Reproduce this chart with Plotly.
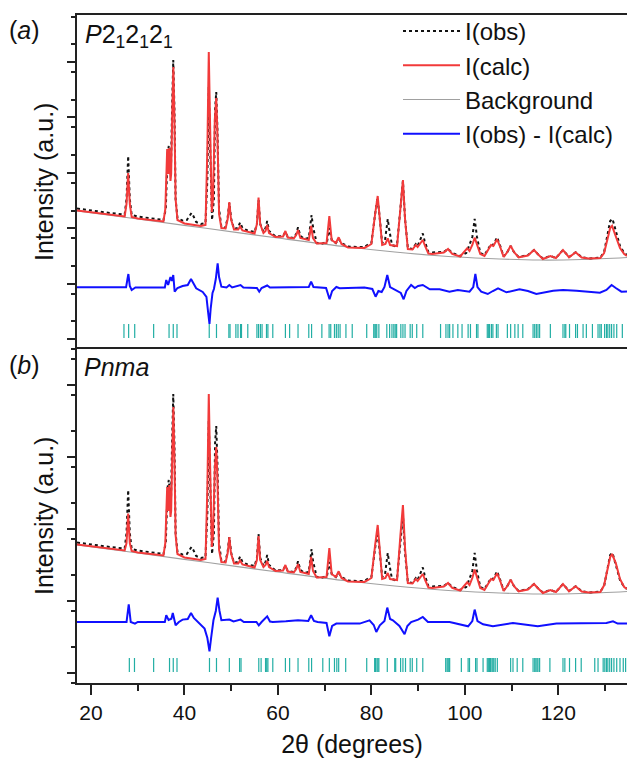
import plotly.graph_objects as go
from plotly.subplots import make_subplots

# ---------------- data (2theta in degrees, intensity in a.u.) ----------------
two_theta_obs = [17.0, 20.0, 24.0, 27.2, 27.6, 27.95, 28.3, 28.7, 30.0, 33.0, 35.5, 36.0, 36.4, 36.65, 36.9, 37.1,
                 37.35, 37.6, 37.85, 38.1, 38.5, 39.5, 40.5, 41.1, 41.5, 41.9, 42.5, 43.5, 44.5, 44.9, 45.2, 45.5,
                 45.9, 46.3, 46.55, 46.8, 47.05, 47.4, 47.9, 48.7, 49.2, 49.6, 50.0, 50.6, 51.4, 51.9, 52.4, 53.5,
                 55.0, 55.5, 55.85, 56.2, 56.9, 57.35, 57.7, 58.1, 59.5, 61.1, 61.6, 62.1, 63.4, 63.9, 64.3, 64.8,
                 65.7, 66.6, 67.0, 67.2, 67.5, 68.3, 69.5, 70.5, 71.0, 71.5, 72.4, 73.0, 73.6, 75.0, 77.0, 78.5,
                 79.3, 80.0, 80.8, 81.3, 81.7, 82.3, 82.9, 83.3, 83.5, 83.8, 84.4, 85.0, 85.5, 86.2, 86.75, 87.2,
                 87.8, 88.8, 89.5, 89.9, 90.6, 91.0, 91.4, 92.2, 93.0, 95.5, 96.4, 97.3, 99.0, 100.3, 100.9, 101.6,
                 102.1, 102.6, 103.3, 104.2, 105.0, 105.6, 106.1, 106.9, 107.5, 108.3, 109.1, 109.8, 110.5, 111.5,
                 113.5, 114.8, 115.6, 116.7, 118.3, 119.5, 121.0, 122.3, 123.7, 125.0, 126.5, 129.0, 129.8, 130.5,
                 131.1, 131.6, 132.3, 133.2, 134.1, 134.7]
i_obs = [140.5, 138.5, 136, 134.5, 150, 193, 150, 134, 132.5, 130.5, 129, 140, 196, 203, 185, 178,
         240, 289, 240, 150, 131, 128.5, 129, 133, 136, 133, 127, 125, 126, 170, 262, 200,
         129, 150, 240, 257, 220, 140, 122, 121, 130, 146, 130, 120, 121, 126.5, 121, 118.5,
         117, 125, 149, 125, 117, 121, 128, 118, 112.5, 113, 117, 112, 111, 115, 121.7, 113,
         110, 111, 125, 134, 122, 106, 105.5, 107, 121, 109, 106, 110, 106, 102.5, 102, 102,
         104.5, 106, 135, 151, 135, 106, 108, 125, 130, 120, 104, 103, 105, 140, 168, 130,
         101, 100, 105, 103, 110, 115.5, 108, 97, 96.5, 97, 100, 96, 93, 96, 103, 112,
         130, 112, 96, 94, 100, 105, 104, 111.7, 104, 92.5, 97, 103, 97, 92,
         94, 99, 95, 90.5, 93, 91, 99, 92, 96.7, 92, 90.5, 91.5, 97, 115,
         128, 130, 118, 103, 96, 94]

two_theta_calc = [17.0, 27.2, 27.6, 27.95, 28.3, 28.7, 30.0, 35.5, 35.9, 36.3, 36.55, 36.75, 37.0, 37.15, 37.4, 37.62,
                  37.85, 38.1, 38.5, 40.0, 43.5, 44.5, 44.9, 45.2, 45.5, 45.85, 46.1, 46.5, 46.8, 47.05, 47.4, 47.9,
                  48.8, 49.25, 49.6, 49.95, 50.6, 51.5, 51.9, 52.4, 55.0, 55.5, 55.85, 56.2, 56.9, 57.35, 57.7, 58.1,
                  59.5, 61.1, 61.6, 62.1, 63.4, 63.9, 64.3, 64.8, 66.6, 67.1, 67.5, 68.3, 70.4, 71.0, 71.5, 72.4,
                  73.0, 73.6, 75.0, 78.5, 79.3, 80.0, 80.8, 81.35, 81.8, 82.3, 83.0, 83.5, 84.0, 85.5, 86.2, 86.75,
                  87.2, 87.8, 88.8, 89.5, 89.9, 90.6, 91.0, 91.5, 92.2, 93.0, 95.5, 96.4, 97.3, 99.0, 100.5, 101.0,
                  101.6, 102.1, 102.6, 103.3, 104.2, 105.0, 105.6, 106.1, 106.9, 107.5, 108.3, 109.1, 109.8, 110.5,
                  111.5, 113.5, 114.8, 115.6, 116.7, 118.3, 119.5, 121.0, 122.3, 123.7, 125.0, 126.5, 129.0, 129.8,
                  130.5, 131.1, 131.5, 132.3, 133.2, 134.1, 134.7]
i_calc_a = [138.5, 132.5, 145, 176, 145, 132, 130.5, 127.5, 140, 200, 175, 201, 168, 175, 240, 282,
            230, 150, 129, 125.5, 123, 124, 200, 297, 220, 137, 150, 230, 251, 215, 135, 121,
            120.5, 130, 147, 130, 119.5, 119.5, 122.5, 118.5, 115.5, 125, 151.5, 125, 116, 118, 124, 116,
            112, 112.5, 118, 111.5, 110.5, 114, 119, 111, 109, 123, 111, 105.5, 106, 133, 109, 106,
            111.7, 105, 101.5, 101, 103, 105, 135, 153, 130, 104, 105, 110.7, 104, 103, 140, 169,
            130, 100, 99.5, 104, 102, 106, 109, 103, 95.5, 95, 96.5, 100, 95, 92.5, 100.7, 98,
            104, 111.3, 104, 95, 93, 99, 104, 103, 109.7, 103, 92, 97, 103.3, 97,
            91.7, 93.5, 99, 95, 90, 93, 91, 99, 91.7, 96.7, 91.5, 90.5, 91, 96,
            110, 121, 123, 113, 101, 95, 93]
i_calc_b = [138.5, 132.5, 140, 169.5, 140, 132, 130.5, 127.5, 140, 196, 172, 198, 166, 172, 232, 276,
            224, 148, 129, 125.5, 123, 124, 195, 289, 215, 136, 148, 215, 236, 205, 133, 121,
            120.5, 130, 146, 130, 119.5, 119.5, 122.5, 118.5, 115.5, 123, 147, 123, 116, 118, 122, 116,
            112, 112.5, 118, 111.5, 110.5, 114, 119, 111, 109, 126, 112, 105.5, 106, 135, 109, 106,
            111.7, 105, 101.5, 101, 103, 105, 138, 158, 133, 104, 105, 110, 104, 103, 147, 178,
            135, 100, 99.5, 104, 102, 106, 109, 103, 95.5, 95, 96.5, 100, 95, 92.5, 100.7, 98,
            105, 113.4, 105, 95, 93, 99, 104, 103, 109.7, 103, 92, 97, 103.3, 97,
            91.7, 93.5, 99, 95, 90, 93, 91, 99, 91.7, 96.7, 91.5, 90.5, 91, 97.7,
            113, 126, 129, 120, 104, 96, 94]

two_theta_bg = [17.0, 30.0, 45.0, 60.0, 75.0, 85.0, 95.0, 105.0, 116.0, 125.0, 134.7]
i_bg = [138, 130, 120.5, 111, 102, 97, 93, 90.5, 89, 89.5, 91.5]

two_theta_diff_a = [17.0, 27.5, 27.8, 28.0, 28.3, 28.7, 29.5, 35.8, 36.1, 36.5, 37.0, 37.3, 37.6, 37.9, 38.5, 39.6,
                    40.7, 41.4, 42.0, 42.5, 43.9, 44.7, 45.1, 45.35, 45.6, 46.0, 46.3, 46.7, 47.1, 47.4, 47.9, 49.0,
                    49.6, 50.2, 52.0, 52.6, 55.5, 56.0, 56.5, 57.7, 58.3, 61.5, 62.0, 64.3, 66.6, 67.1, 67.6, 70.3,
                    71.05, 71.6, 72.5, 73.2, 78.5, 80.2, 80.9, 81.5, 82.2, 82.8, 83.4, 84.0, 85.3, 86.3, 86.9, 87.5,
                    88.5, 89.3, 90.0, 91.0, 92.5, 94.6, 96.7, 98.5, 101.0, 101.8, 102.25, 102.7, 103.5, 104.9, 106.0,
                    107.1, 108.9, 111.7, 113.5, 115.3, 118.9, 121.0, 123.9, 128.9, 130.3, 131.4, 132.3, 133.5, 134.7]
i_diff_a = [61.7, 61.7, 70, 75, 63, 59, 61.5, 61.5, 69, 64, 72, 68, 74, 57.3, 61, 63,
            64, 70, 65, 60.7, 57, 52, 35, 25, 40, 56, 60, 70, 85.7, 72, 62.3, 61.5,
            64, 61.5, 64, 61.5, 61, 57.3, 61, 63.5, 61.5, 61.5, 62, 62, 62, 67.3, 62, 61,
            49.7, 58, 62, 60.7, 61.5, 60, 52.3, 58, 57, 62, 74, 62, 59, 56, 49.7, 58,
            64, 61, 63, 64, 59.7, 59.7, 57.3, 59, 57.3, 62, 75, 62, 57.3, 55, 58,
            60.7, 56.7, 59.7, 58, 55, 58.3, 59, 58.3, 56.3, 59, 64, 61, 57.3, 57.5]

two_theta_diff_b = [17.0, 27.6, 28.07, 28.5, 29.4, 30.0, 35.8, 36.1, 36.6, 37.2, 37.5, 38.1, 38.8, 39.6, 40.7, 41.4,
                    42.0, 42.5, 44.3, 44.9, 45.35, 45.7, 46.2, 46.7, 47.1, 47.5, 47.9, 49.6, 50.5, 52.0, 52.7, 55.4,
                    55.9, 56.5, 57.7, 58.3, 58.9, 61.7, 64.3, 66.5, 67.1, 67.7, 68.5, 70.4, 71.0, 71.6, 72.5, 77.5,
                    79.6, 80.5, 81.05, 81.8, 82.8, 83.4, 84.0, 84.6, 86.0, 87.1, 87.7, 88.5, 90.0, 91.0, 92.1, 96.75,
                    100.7, 101.6, 102.1, 102.7, 103.9, 106.0, 110.3, 115.6, 119.6, 130.3, 131.7, 132.7, 134.7]
i_diff_b = [61, 61, 78.7, 61, 59.3, 61, 61, 67.7, 63, 64.3, 70, 57.7, 61, 63.4, 64, 70,
            65, 62.7, 54.4, 45, 31.7, 45, 62.7, 72, 85.4, 72, 62.7, 63.4, 61.5, 63.4, 61, 61,
            57.7, 61, 66.7, 61.5, 61, 61.7, 62.7, 62, 67.7, 62, 61, 60, 46.7, 57, 59.4, 59.4,
            62.7, 58, 51, 57.7, 62, 75.4, 64, 62.7, 57, 48.7, 57, 61, 63.4, 66, 61, 61,
            56.7, 62, 73.4, 62, 58.7, 56.7, 60, 56.7, 59.4, 60, 61.7, 59.4, 59.4]

# Bragg reflection positions
hkl_a = [27.05, 28.05, 29.35, 33.4, 36.7, 37.6, 38.4, 45.3, 46.85, 49.5, 49.75, 51.0, 51.45, 52.0, 52.2, 53.55,
         55.5, 55.85, 56.25, 56.6, 57.55, 57.85, 58.9, 61.6, 62.5, 64.3, 66.6, 67.2, 69.4, 70.95, 71.3, 72.1,
         72.5, 72.9, 73.3, 74.55, 75.9, 79.0, 80.5, 80.75, 80.95, 81.15, 81.6, 83.3, 83.9, 84.4, 84.8, 85.1,
         85.4, 86.3, 86.75, 87.2, 88.3, 88.75, 89.7, 91.0, 94.8, 95.95, 96.4, 96.75, 97.45, 98.5, 99.4, 100.7,
         101.2, 102.5, 102.8, 104.8, 105.1, 105.3, 105.7, 106.0, 106.75, 107.1, 109.1, 109.8, 110.7, 111.4,
         112.4, 114.6, 114.95, 115.3, 115.65, 116.0, 118.3, 121.0, 121.4, 121.6, 122.4, 123.7, 124.1, 125.3,
         126.0, 127.3, 128.5, 128.9, 129.2, 129.9, 130.3, 130.6, 131.0, 131.4, 131.9, 132.5, 133.7]
hkl_b = [28.2, 29.3, 33.4, 36.8, 37.6, 38.4, 45.35, 46.85, 49.6, 51.8, 52.1, 55.9, 56.4, 57.35, 57.6, 57.85,
         58.9, 61.6, 62.5, 64.3, 66.6, 67.2, 69.6, 71.0, 72.1, 72.6, 73.0, 74.5, 79.0, 80.7, 80.9, 81.2,
         81.4, 81.6, 83.4, 85.0, 85.2, 86.25, 86.75, 87.3, 88.3, 88.75, 89.7, 91.0, 95.9, 96.2, 96.4, 96.6,
         96.75, 99.25, 100.7, 101.0, 102.3, 102.6, 103.9, 104.8, 105.1, 105.3, 105.5, 105.8, 106.0, 106.2,
         106.5, 106.95, 109.8, 110.3, 111.2, 112.4, 114.6, 114.95, 115.2, 115.45, 115.65, 116.0, 118.2, 121.0,
         121.4, 122.4, 123.7, 124.9, 127.8, 128.5, 129.6, 129.95, 130.3, 130.6, 131.0, 131.4, 131.9, 132.5,
         133.2, 133.9, 134.4]
hkl_tick_span = [11, 25]

x_tick_vals = [20, 40, 60, 80, 100, 120]

# ---------------- figure ----------------
FONT = "Liberation Sans, Arial, sans-serif"
C_OBS, C_CALC, C_BG, C_DIFF, C_HKL = "#111111", "#f23a3a", "#a0a0a0", "#1010ff", "#22aea4"

fig = make_subplots(rows=2, cols=1, shared_xaxes=True, vertical_spacing=0)


def hkl_segments(pos):
    xs, ys = [], []
    for p in pos:
        xs += [p, p, None]
        ys += [hkl_tick_span[0], hkl_tick_span[1], None]
    return xs, ys


panels = [(1, i_calc_a, two_theta_diff_a, i_diff_a, hkl_a), (2, i_calc_b, two_theta_diff_b, i_diff_b, hkl_b)]
for row, icalc, dx, dy, hkl in panels:
    show = row == 1
    fig.add_trace(go.Scatter(x=two_theta_bg, y=i_bg, mode="lines", name="Background", legendrank=3,
                             line=dict(color=C_BG, width=1.2, shape="spline"), showlegend=show), row=row, col=1)
    fig.add_trace(go.Scatter(x=two_theta_obs, y=i_obs, mode="lines", name="I(obs)", legendrank=1,
                             line=dict(color=C_OBS, width=2, dash="dot"), showlegend=show), row=row, col=1)
    fig.add_trace(go.Scatter(x=two_theta_calc, y=icalc, mode="lines", name="I(calc)", legendrank=2,
                             line=dict(color=C_CALC, width=2), showlegend=show), row=row, col=1)
    fig.add_trace(go.Scatter(x=dx, y=dy, mode="lines", name="I(obs) - I(calc)", legendrank=4,
                             line=dict(color=C_DIFF, width=2), showlegend=show), row=row, col=1)
    hx, hy = hkl_segments(hkl)
    fig.add_trace(go.Scatter(x=hx, y=hy, mode="lines", line=dict(color=C_HKL, width=1.2),
                             showlegend=False), row=row, col=1)

axis_line = dict(showline=True, linecolor="#222222", linewidth=2, showgrid=False, zeroline=False)
fig.update_xaxes(range=[17.0, 134.7], **axis_line)
# top panel: only its top frame line; the separator is drawn by the lower panel's mirrored axis
fig.update_xaxes(ticks="", showticklabels=False, side="top", mirror=False, row=1, col=1)
fig.update_xaxes(mirror=True, ticks="outside", ticklen=10, tickwidth=2, tickcolor="#222222",
                 tickvals=x_tick_vals, ticktext=[str(v) for v in x_tick_vals],
                 minor=dict(ticks="outside", ticklen=6, tickwidth=2, tickcolor="#222222", dtick=10, tick0=10),
                 tickfont=dict(family=FONT, size=21, color="#111111"),
                 title=dict(text="2θ (degrees)", font=dict(family=FONT, size=25, color="#111111"), standoff=12),
                 row=2, col=1)
fig.update_yaxes(range=[0, 334], showticklabels=False, ticks="outside", ticklen=8, tickwidth=2,
                 tickcolor="#222222", **axis_line)
fig.update_yaxes(tick0=10, dtick=55.4,
                 minor=dict(ticks="outside", ticklen=4, tickwidth=2, tickcolor="#222222", dtick=27.7),
                 row=1, col=1)
fig.update_yaxes(tick0=10, dtick=72,
                 minor=dict(ticks="outside", ticklen=4, tickwidth=2, tickcolor="#222222", dtick=36),
                 row=2, col=1)

W, H = 627, 759
ML, MR, MT, MB = 77, 0, 15, 76
PW, PH = W - ML - MR, H - MT - MB


def px(x):
    return (x - ML) / PW


def py(y):
    return (H - MB - y) / PH


ann = dict(showarrow=False, xref="paper", yref="paper")
annotations = [
    dict(text="(<i>a</i>)", x=px(24), y=py(30), xanchor="center", yanchor="middle", **ann),
    dict(text="(<i>b</i>)", x=px(24), y=py(365), xanchor="center", yanchor="middle", **ann),
    dict(text="<i>P</i>2<sub>1</sub>2<sub>1</sub>2<sub>1</sub>", x=px(83), y=py(18), xanchor="left",
         yanchor="top", **ann),
    dict(text="<i>Pnma</i>", x=px(82), y=py(351), xanchor="left", yanchor="top", **ann),
    dict(text="Intensity (a.u.)", x=px(44), y=py(182), textangle=-90, xanchor="center", yanchor="middle", **ann),
    dict(text="Intensity (a.u.)", x=px(44), y=py(516), textangle=-90, xanchor="center", yanchor="middle", **ann),
]
for a in annotations:
    a["font"] = dict(family=FONT, size=25, color="#111111")

fig.update_layout(
    width=W, height=H, margin=dict(l=ML, r=MR, t=MT, b=MB),
    paper_bgcolor="white", plot_bgcolor="white",
    font=dict(family=FONT, color="#111111"),
    annotations=annotations,
    showlegend=True,
    legend=dict(x=px(398), y=py(9), xanchor="left", yanchor="top", bgcolor="rgba(0,0,0,0)",
                font=dict(family=FONT, size=24, color="#111111"), itemwidth=57, tracegroupgap=0),
    hovermode=False,
)

fig.write_html("out.html")
